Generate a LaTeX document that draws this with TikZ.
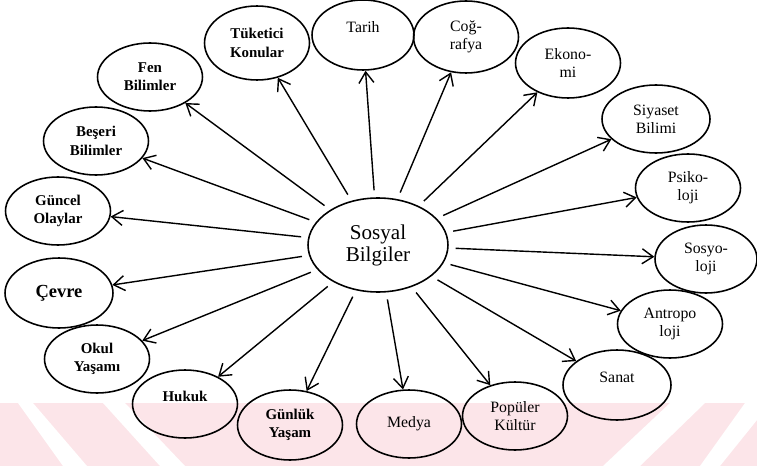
\documentclass[tikz,border=0pt]{standalone}
\usepackage{fontspec}
\setmainfont{Liberation Serif}
\usetikzlibrary{shapes.geometric, arrows.meta}

\definecolor{markpink}{RGB}{252,229,233}

\begin{document}
\begin{tikzpicture}[
    x=0.02cm, y=-0.02cm,
    % Node styles
    topic/.style={
        ellipse,
        draw=black,
        line width=0.9pt,
        inner sep=0pt,
        minimum width=2.1cm,
        minimum height=1.36cm,
        font=\fontsize{9}{10.4}\selectfont,
        align=center
    },
    topicbold/.style={
        topic,
        font=\fontsize{8.5}{10.4}\selectfont\bfseries
    },
    core/.style={
        ellipse,
        draw=black,
        line width=0.9pt,
        inner sep=0pt,
        minimum width=2.8cm,
        minimum height=1.88cm,
        font=\fontsize{12}{12.5}\selectfont,
        align=center
    },
    arrow/.style={
        -{Straight Barb[length=2.2mm, width=3mm]},
        line width=0.8pt,
        black,
        shorten <=4pt
    }
]
\useasboundingbox (0,0) rectangle (757,466);

% === Watermark band ===
\fill[markpink] (0,403) rectangle (757,466);
\fill[white] (18,403) -- (33,403) -- (87,466) -- (63,466) -- cycle;
\fill[white] (103,403) -- (125,403) -- (185,466) -- (160,466) -- cycle;
\fill[white] (670,403) -- (705,403) -- (640,466) -- (603,466) -- cycle;
\fill[white] (745,403) -- (757,403) -- (757,420) -- (720,466) -- (700,466) -- cycle;

% === Centre ===
\node[core] (sosyal) at (378,245) {Sosyal\\Bilgiler};

% === Upper ring ===
\node[topicbold] (fen) at (150,77) {Fen\\Bilimler};
\node[topicbold, minimum height=1.48cm] (tuketici) at (257,43) {Tüketici\\Konular};
\node[topic, minimum width=2.04cm, minimum height=1.4cm] (tarih) at (363,35) {Tarih\\[-1.5pt]};
\node[topic, minimum height=1.44cm] (cografya) at (466,37) {Coğ-\\rafya};
\node[topic, minimum height=1.4cm] (ekonomi) at (568,63) {Ekono-\\mi};
\node[topic, minimum width=2.16cm] (siyaset) at (656,119) {Siyaset\\Bilimi};

% === Right side ===
\node[topic] (psikoloji) at (688,188) {Psiko-\\loji};
\node[topic, minimum width=2.04cm] (sosyoloji) at (706,259) {Sosyo-\\loji};
\node[topic] (antropoloji) at (670,324) {Antropo\\loji};
\node[topic, minimum width=2.16cm, minimum height=1.4cm] (sanat) at (617,385) {Sanat\\[-1.5pt]};

% === Lower ring ===
\node[topic] (populer) at (515,416) {Popüler\\Kültür};
\node[topic] (medya) at (409,424) {Medya};
\node[topicbold, minimum height=1.4cm] (gunluk) at (290,425) {Günlük\\Yaşam};
\node[topicbold] (hukuk) at (185,404) {Hukuk\\[-1.5pt]};

% === Left side ===
\node[topicbold] (okul) at (97,359) {Okul\\Yaşamı};
\node[topicbold, minimum width=2.16cm, minimum height=1.4cm,
      font=\fontsize{10.5}{12}\selectfont\bfseries] (cevre) at (59,293) {Çevre};
\node[topicbold] (guncel) at (58,211) {Güncel\\Olaylar};
\node[topicbold] (beseri) at (96,141) {Beşeri\\Bilimler};

% === Arrows ===
\draw[arrow] (sosyal) -- (fen);
\draw[arrow] (sosyal) -- (tuketici);
\draw[arrow] (sosyal) -- (tarih);
\draw[arrow] (sosyal) -- (cografya);
\draw[arrow] (sosyal) -- (ekonomi);
\draw[arrow] (sosyal) -- (siyaset);
\draw[arrow] (sosyal) -- (psikoloji);
\draw[arrow] (sosyal) -- (sosyoloji);
\draw[arrow] (sosyal) -- (antropoloji);
\draw[arrow] (sosyal) -- (sanat);
\draw[arrow] (sosyal) -- (populer);
\draw[arrow] (sosyal) -- (medya);
\draw[arrow] (sosyal) -- (gunluk);
\draw[arrow] (sosyal) -- (hukuk);
\draw[arrow] (sosyal) -- (okul);
\draw[arrow] (sosyal) -- (cevre);
\draw[arrow] (sosyal) -- (guncel);
\draw[arrow] (sosyal) -- (beseri);

\end{tikzpicture}
\end{document}
